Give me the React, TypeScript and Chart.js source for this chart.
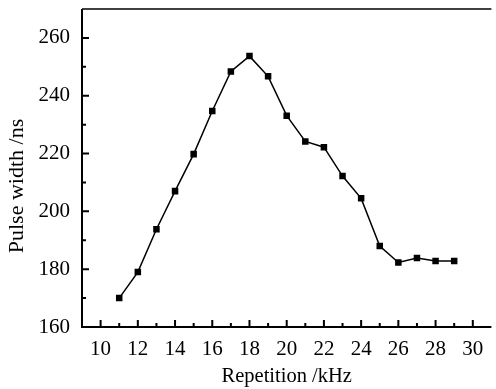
import { useEffect, useRef } from "react";
import { Chart, registerables } from "chart.js";

Chart.register(...registerables);

const repetitionKHz = [11, 12, 13, 14, 15, 16, 17, 18, 19, 20, 21, 22, 23, 24, 25, 26, 27, 28, 29];
const pulseWidthNs = [170, 179, 193.8, 207, 219.8, 234.7, 248.4, 253.7, 246.7, 233.1, 224.2, 222.2, 212.2, 204.5, 188, 182.3, 183.9, 182.8, 182.8];
const xTicks = [10, 12, 14, 16, 18, 20, 22, 24, 26, 28, 30];
const xMinorTicks = [11, 13, 15, 17, 19, 21, 23, 25, 27, 29];
const yTicks = [160, 180, 200, 220, 240, 260];
const yMinorTicks = [170, 190, 210, 230, 250];
const xTitle = "Repetition /kHz";
const yTitle = "Pulse width /ns";

const FONT = "'Liberation Serif', 'Times New Roman', serif";

const framePlugin = {
  id: "frame",
  afterDatasetsDraw(chart: any) {
    const { ctx, chartArea: a, scales } = chart;
    const x = scales.x;
    const y = scales.y;
    ctx.save();
    ctx.strokeStyle = "#000";
    ctx.lineCap = "butt";
    ctx.lineWidth = 2;
    ctx.beginPath();
    for (const v of xTicks) {
      const px = x.getPixelForValue(v);
      ctx.moveTo(px, a.bottom);
      ctx.lineTo(px, a.bottom - 7);
    }
    for (const v of yTicks) {
      const py = y.getPixelForValue(v);
      ctx.moveTo(a.left, py);
      ctx.lineTo(a.left + 7, py);
    }
    ctx.stroke();
    ctx.beginPath();
    for (const v of xMinorTicks) {
      const px = x.getPixelForValue(v);
      ctx.moveTo(px, a.bottom);
      ctx.lineTo(px, a.bottom - 4);
    }
    for (const v of yMinorTicks) {
      const py = y.getPixelForValue(v);
      ctx.moveTo(a.left, py);
      ctx.lineTo(a.left + 4, py);
    }
    ctx.stroke();
    ctx.lineWidth = 2;
    ctx.beginPath();
    ctx.moveTo(a.left, a.top);
    ctx.lineTo(a.left, a.bottom);
    ctx.lineTo(a.right, a.bottom);
    ctx.stroke();
    ctx.lineWidth = 1.5;
    ctx.beginPath();
    ctx.moveTo(a.left, a.top);
    ctx.lineTo(a.right, a.top);
    ctx.stroke();

    // y axis title (rotated), placed slightly below the plot centre as in the reference
    ctx.fillStyle = "#000";
    ctx.font = `22px ${FONT}`;
    ctx.textAlign = "center";
    ctx.textBaseline = "middle";
    ctx.translate(17, (a.top + a.bottom) / 2 + 18);
    ctx.rotate(-Math.PI / 2);
    ctx.fillText(yTitle, 0, 0);
    ctx.restore();
  },
};

export default function App() {
  const canvasRef = useRef<HTMLCanvasElement | null>(null);

  useEffect(() => {
    if (!canvasRef.current) return;
    const chart = new Chart(canvasRef.current, {
      type: "line",
      data: {
        datasets: [
          {
            data: repetitionKHz.map((r, i) => ({ x: r, y: pulseWidthNs[i] })),
            borderColor: "#000",
            backgroundColor: "#000",
            borderWidth: 1.5,
            pointStyle: "rect",
            pointRadius: 4.6,
            pointBorderWidth: 0,
            pointBackgroundColor: "#000",
            tension: 0,
          },
        ],
      },
      options: {
        animation: false,
        responsive: true,
        maintainAspectRatio: false,
        layout: { padding: { top: 9, right: 0, left: 0, bottom: 0 } },
        plugins: { legend: { display: false }, tooltip: { enabled: false } },
        scales: {
          x: {
            type: "linear",
            min: 9,
            max: 31,
            grid: { display: false, drawTicks: false },
            border: { display: false },
            afterBuildTicks: (s: any) => {
              s.ticks = xTicks.map((v) => ({ value: v }));
            },
            afterFit: (s: any) => {
              s.height = 62;
              s.paddingLeft = 0;
              s.paddingRight = 0;
            },
            ticks: {
              color: "#000",
              padding: 10,
              maxRotation: 0,
              autoSkip: false,
              font: { family: FONT, size: 21 },
            },
            title: {
              display: true,
              text: xTitle,
              color: "#000",
              padding: { top: 0, bottom: 0 },
              font: { family: FONT, size: 20.5 },
            },
          },
          y: {
            type: "linear",
            min: 160,
            max: 270,
            grid: { display: false, drawTicks: false },
            border: { display: false },
            afterBuildTicks: (s: any) => {
              s.ticks = yTicks.map((v) => ({ value: v }));
            },
            afterFit: (s: any) => {
              s.width = 82;
              s.paddingTop = 0;
              s.paddingBottom = 0;
            },
            ticks: {
              color: "#000",
              padding: 12,
              autoSkip: false,
              font: { family: FONT, size: 21 },
            },
            title: { display: false },
          },
        },
      },
      plugins: [framePlugin],
    });
    return () => chart.destroy();
  }, []);

  return (
    <div style={{ position: "fixed", left: 0, top: 0, width: 496, height: 389, background: "#fff" }}>
      <canvas ref={canvasRef} />
    </div>
  );
}
